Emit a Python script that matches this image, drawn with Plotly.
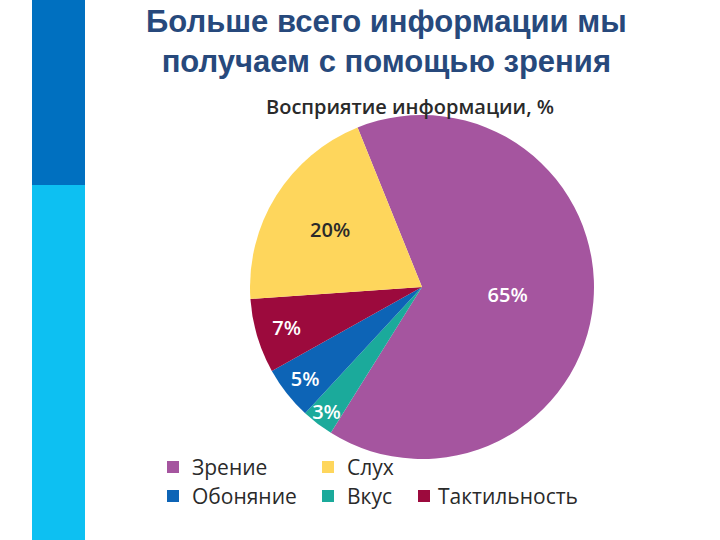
import plotly.graph_objects as go

# ---- data ----
labels = ["Зрение", "Вкус", "Обоняние", "Тактильность", "Слух"]
values = [65, 3, 5, 7, 20]
colors = ["#A5559F", "#1BAA9B", "#0D64B6", "#9C0A3D", "#FED65C"]
text_colors = ["#FFFFFF", "#FFFFFF", "#FFFFFF", "#FFFFFF", "#2A2A2A"]

legend_labels = ["Зрение", "Слух", "Обоняние", "Вкус", "Тактильность"]
legend_colors = ["#A5559F", "#FED65C", "#0D64B6", "#1BAA9B", "#9C0A3D"]

title_text = "Больше всего информации мы<br>получаем с помощью зрения"
subtitle_text = "Восприятие информации, %"

# ---- layout constants (pixel positions on the 720x540 page) ----
legend_marker_x = [173, 328, 173, 328, 424]
legend_marker_y = [467, 467, 496, 496, 496]
legend_text_x = [190, 345, 190, 345, 436]

fig = go.Figure()

fig.add_trace(go.Pie(
    labels=labels,
    values=values,
    sort=False,
    direction="clockwise",
    rotation=-22,
    marker=dict(colors=colors, line=dict(width=0)),
    texttemplate="%{value}%",
    textposition="inside",
    insidetextorientation="horizontal",
    textfont=dict(color=text_colors, size=20, family="Open Sans", weight=600),
    domain=dict(x=[(422 - 172) / 720, (422 + 172) / 720],
                y=[1 - (287 + 172) / 540, 1 - (287 - 172) / 540]),
    showlegend=False,
    hoverinfo="label+percent",
))

fig.add_trace(go.Scatter(
    x=legend_marker_x,
    y=legend_marker_y,
    mode="markers",
    marker=dict(symbol="square", size=12, color=legend_colors),
    showlegend=False,
    hoverinfo="skip",
    xaxis="x", yaxis="y",
))

annotations = []
for tx, ty, lab in zip(legend_text_x, legend_marker_y, legend_labels):
    annotations.append(dict(
        x=tx, y=ty, xref="x", yref="y", text=lab, showarrow=False,
        xanchor="left", yanchor="middle",
        font=dict(family="Open Sans", size=21, color="#2A2A2A"),
    ))

annotations.append(dict(
    x=410, y=106, xref="x", yref="y", text=subtitle_text, showarrow=False,
    xanchor="center", yanchor="middle",
    font=dict(family="Open Sans", size=20, color="#2A2A2A", weight=600),
))

annotations.append(dict(
    x=386, y=41, xref="x", yref="y", text=title_text, showarrow=False,
    xanchor="center", yanchor="middle",
    font=dict(family="Liberation Sans", size=31, color="#27497C", weight="bold"),
))

shapes = [
    dict(type="rect", xref="x", yref="y", x0=32, x1=85, y0=0, y1=185,
         fillcolor="#0070C0", line=dict(width=0), layer="below"),
    dict(type="rect", xref="x", yref="y", x0=32, x1=85, y0=185, y1=540,
         fillcolor="#0DC0F2", line=dict(width=0), layer="below"),
]

fig.update_layout(
    width=720, height=540,
    margin=dict(l=0, r=0, t=0, b=0),
    paper_bgcolor="white",
    plot_bgcolor="rgba(0,0,0,0)",
    xaxis=dict(range=[0, 720], visible=False, domain=[0, 1], fixedrange=True),
    yaxis=dict(range=[540, 0], visible=False, domain=[0, 1], fixedrange=True),
    uniformtext=dict(minsize=20, mode="show"),
    annotations=annotations,
    shapes=shapes,
)

fig.write_html("out.html")
